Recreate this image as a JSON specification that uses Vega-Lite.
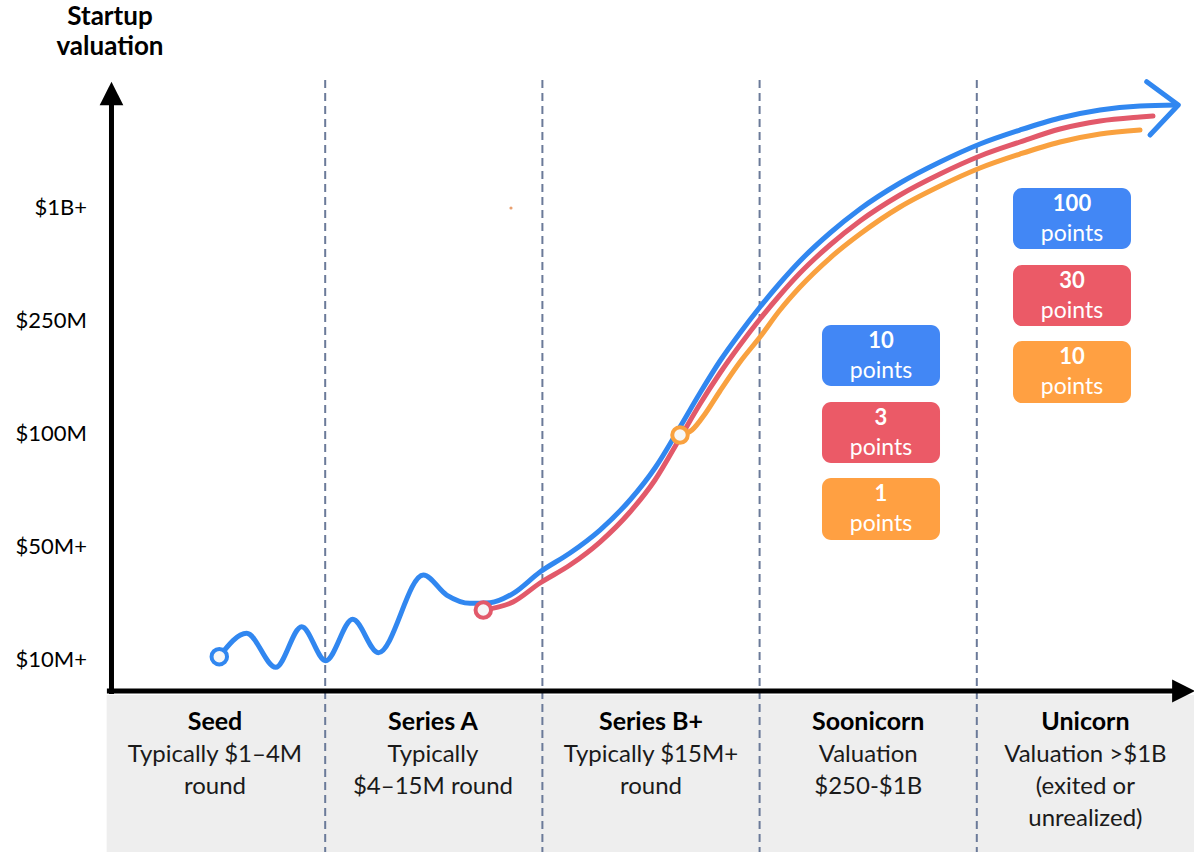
{
  "$schema": "https://vega.github.io/schema/vega-lite/v6.json",
  "width": 1194,
  "height": 852,
  "autosize": "none",
  "padding": 0,
  "background": "white",
  "config": {"view": {"stroke": null}, "font": "Lato"},
  "encoding": {
    "x": {"field": "x", "type": "quantitative", "scale": {"domain": [-0.4972, 5], "nice": false, "zero": false}, "axis": null},
    "y": {"field": "y", "type": "quantitative", "scale": {"domain": [-0.6991, 6.8407], "nice": false, "zero": false}, "axis": null}
  },
  "layer": [
    {
      "data": {"values": [{"x": -0.0061, "x2": 5, "y": 0.6903, "y2": -0.6991}]},
      "mark": {"type": "rect", "color": "#eeeeee"},
      "encoding": {"x2": {"field": "x2"}, "y2": {"field": "y2"}}
    },
    {
      "data": {"values": [{"x": 1, "y": 6.133, "y2": -0.6991}, {"x": 2, "y": 6.133, "y2": -0.6991}, {"x": 3, "y": 6.133, "y2": -0.6991}, {"x": 4, "y": 6.133, "y2": -0.6991}]},
      "mark": {"type": "rule", "color": "#6b7a99", "strokeWidth": 2, "strokeDash": [8, 5]},
      "encoding": {"y2": {"field": "y2"}}
    },
    {
      "data": {"values": [{"x": -0.005, "x2": 4.96, "y": 0.7257}]},
      "mark": {"type": "rule", "color": "black", "strokeWidth": 5},
      "encoding": {"x2": {"field": "x2"}}
    },
    {
      "data": {"values": [{"x": 0.0161, "y": 0.70, "y2": 5.95}]},
      "mark": {"type": "rule", "color": "black", "strokeWidth": 5},
      "encoding": {"y2": {"field": "y2"}}
    },
    {
      "data": {"values": [{"x": 0.0161, "y": 6.013, "dir": "up"}]},
      "mark": {"type": "point", "shape": "M-1,1L0,-1L1,1Z", "size": 560, "filled": true, "color": "black", "opacity": 1}
    },
    {
      "data": {"values": [{"x": 4.9517, "y": 0.7257, "dir": "right"}]},
      "mark": {"type": "point", "shape": "M-1,-1L1,0L-1,1Z", "size": 520, "filled": true, "color": "black", "opacity": 1}
    },
    {
      "data": {"values": [{"x": 0.0092, "y": 6.690, "t": "Startup"}, {"x": 0.0092, "y": 6.425, "t": "valuation"}]},
      "mark": {"type": "text", "fontSize": 26, "fontWeight": "bold", "align": "center", "baseline": "middle", "color": "black"},
      "encoding": {"text": {"field": "t"}}
    },
    {
      "data": {"values": [
        {"x": -0.0967, "y": 1, "t": "$10M+"},
        {"x": -0.0967, "y": 2, "t": "$50M+"},
        {"x": -0.0967, "y": 3, "t": "$100M"},
        {"x": -0.0967, "y": 4, "t": "$250M"},
        {"x": -0.0967, "y": 5, "t": "$1B+"}
      ]},
      "mark": {"type": "text", "fontSize": 22, "align": "right", "baseline": "middle", "color": "black"},
      "encoding": {"text": {"field": "t"}}
    },
    {
      "data": {"values": [
        {"x": 0.4926, "y": 0.4513, "t": "Seed"},
        {"x": 1.496, "y": 0.4513, "t": "Series A"},
        {"x": 2.5, "y": 0.4513, "t": "Series B+"},
        {"x": 3.5, "y": 0.4513, "t": "Soonicorn"},
        {"x": 4.5, "y": 0.4513, "t": "Unicorn"}
      ]},
      "mark": {"type": "text", "fontSize": 25, "fontWeight": "bold", "align": "center", "baseline": "middle", "color": "black"},
      "encoding": {"text": {"field": "t"}}
    },
    {
      "data": {"values": [
        {"x": 0.4926, "y": 0.1593, "t": "Typically $1–4M"},
        {"x": 0.4926, "y": -0.1239, "t": "round"},
        {"x": 1.496, "y": 0.1593, "t": "Typically"},
        {"x": 1.496, "y": -0.1239, "t": "$4–15M round"},
        {"x": 2.5, "y": 0.1593, "t": "Typically $15M+"},
        {"x": 2.5, "y": -0.1239, "t": "round"},
        {"x": 3.5, "y": 0.1593, "t": "Valuation"},
        {"x": 3.5, "y": -0.1239, "t": "$250-$1B"},
        {"x": 4.5, "y": 0.1593, "t": "Valuation >$1B"},
        {"x": 4.5, "y": -0.1239, "t": "(exited or"},
        {"x": 4.5, "y": -0.4071, "t": "unrealized)"}
      ]},
      "mark": {"type": "text", "fontSize": 24, "align": "center", "baseline": "middle", "color": "#1a1a1a"},
      "encoding": {"text": {"field": "t"}}
    },
    {
      "data": {"values": [{"x": 1.8554, "y": 5.0}]},
      "mark": {"type": "point", "filled": true, "size": 10, "color": "#e9a070", "opacity": 1}
    },
    {
      "data": {"values": [
        {"x": 2.6335, "y": 2.9912}, {"x": 2.6888, "y": 3.0354}, {"x": 2.7486, "y": 3.1770},
        {"x": 2.8177, "y": 3.3805}, {"x": 2.9098, "y": 3.6372}, {"x": 3.0018, "y": 3.8584},
        {"x": 3.0939, "y": 4.0973}, {"x": 3.1860, "y": 4.3009}, {"x": 3.3241, "y": 4.5575},
        {"x": 3.4622, "y": 4.7699}, {"x": 3.6464, "y": 5.0088}, {"x": 3.8306, "y": 5.1947},
        {"x": 4.0147, "y": 5.3540}, {"x": 4.1989, "y": 5.4779}, {"x": 4.3831, "y": 5.5841},
        {"x": 4.5672, "y": 5.6549}, {"x": 4.7514, "y": 5.6903}
      ]},
      "mark": {"type": "line", "interpolate": "monotone", "color": "#f9a13f", "strokeWidth": 5, "strokeCap": "round"}
    },
    {
      "data": {"values": [
        {"x": 1.7279, "y": 1.4425}, {"x": 1.8646, "y": 1.5133}, {"x": 1.9890, "y": 1.6814},
        {"x": 2.1271, "y": 1.8407}, {"x": 2.2652, "y": 2.0442}, {"x": 2.4033, "y": 2.3097},
        {"x": 2.5184, "y": 2.5929}, {"x": 2.6335, "y": 2.9646}, {"x": 2.7256, "y": 3.2655},
        {"x": 2.8177, "y": 3.5398}, {"x": 2.9098, "y": 3.7876}, {"x": 3.0018, "y": 4.0177},
        {"x": 3.0939, "y": 4.2301}, {"x": 3.1860, "y": 4.4248}, {"x": 3.3241, "y": 4.6726},
        {"x": 3.4622, "y": 4.8850}, {"x": 3.6464, "y": 5.1150}, {"x": 3.8306, "y": 5.3009},
        {"x": 4.0147, "y": 5.4602}, {"x": 4.1989, "y": 5.5841}, {"x": 4.3831, "y": 5.6991},
        {"x": 4.5672, "y": 5.7699}, {"x": 4.7514, "y": 5.8053}, {"x": 4.8112, "y": 5.8142}
      ]},
      "mark": {"type": "line", "interpolate": "monotone", "color": "#e2596a", "strokeWidth": 5, "strokeCap": "round"}
    },
    {
      "data": {"values": [
        {"x": 0.5124, "y": 1.029}, {"x": 0.6386, "y": 1.236}, {"x": 0.7721, "y": 0.935},
        {"x": 0.8918, "y": 1.295}, {"x": 1.0023, "y": 0.994}, {"x": 1.1266, "y": 1.360},
        {"x": 1.2445, "y": 1.065}, {"x": 1.4517, "y": 1.752}, {"x": 1.5594, "y": 1.575},
        {"x": 1.6667, "y": 1.502}, {"x": 1.7587, "y": 1.507}, {"x": 1.8660, "y": 1.590},
        {"x": 1.9890, "y": 1.7788}, {"x": 2.1271, "y": 1.9469}, {"x": 2.2652, "y": 2.1504},
        {"x": 2.4033, "y": 2.4159}, {"x": 2.5184, "y": 2.6991}, {"x": 2.6335, "y": 3.0619},
        {"x": 2.7256, "y": 3.3628}, {"x": 2.8177, "y": 3.6460}, {"x": 2.9098, "y": 3.8938},
        {"x": 3.0018, "y": 4.1239}, {"x": 3.0939, "y": 4.3363}, {"x": 3.1860, "y": 4.5310},
        {"x": 3.3241, "y": 4.7788}, {"x": 3.4622, "y": 4.9912}, {"x": 3.6464, "y": 5.2212},
        {"x": 3.8306, "y": 5.4071}, {"x": 4.0147, "y": 5.5664}, {"x": 4.1989, "y": 5.6903},
        {"x": 4.3831, "y": 5.7965}, {"x": 4.5672, "y": 5.8673}, {"x": 4.7514, "y": 5.9027},
        {"x": 4.9217, "y": 5.9115}
      ]},
      "mark": {"type": "line", "interpolate": "monotone", "color": "#3187f0", "strokeWidth": 5, "strokeCap": "round"}
    },
    {
      "data": {"values": [
        {"i": 0, "x": 4.7823, "y": 6.118}, {"i": 1, "x": 4.9277, "y": 5.912}, {"i": 2, "x": 4.7974, "y": 5.646}
      ]},
      "mark": {"type": "line", "interpolate": "linear", "color": "#3187f0", "strokeWidth": 5, "strokeCap": "round", "strokeJoin": "round"},
      "encoding": {"order": {"field": "i", "type": "quantitative"}}
    },
    {
      "data": {"values": [
        {"x": 0.5124, "y": 1.029, "tier": "blue"},
        {"x": 1.7279, "y": 1.442, "tier": "red"},
        {"x": 2.6335, "y": 2.991, "tier": "orange"}
      ]},
      "mark": {"type": "point", "shape": "circle", "size": 240, "fill": "#f7f7f7", "filled": false, "strokeWidth": 4, "opacity": 1, "fillOpacity": 1},
      "encoding": {
        "stroke": {"field": "tier", "type": "nominal", "scale": {"domain": ["blue", "red", "orange"], "range": ["#3187f0", "#e2596a", "#f9a13f"]}, "legend": null}
      }
    },
    {
      "data": {"values": [
        {"x": 3.2873, "x2": 3.8306, "y": 3.965, "y2": 3.425, "tier": "blue"},
        {"x": 3.2873, "x2": 3.8306, "y": 3.283, "y2": 2.743, "tier": "red"},
        {"x": 3.2873, "x2": 3.8306, "y": 2.611, "y2": 2.062, "tier": "orange"},
        {"x": 4.1667, "x2": 4.7099, "y": 5.177, "y2": 4.637, "tier": "blue"},
        {"x": 4.1667, "x2": 4.7099, "y": 4.496, "y2": 3.956, "tier": "red"},
        {"x": 4.1667, "x2": 4.7099, "y": 3.823, "y2": 3.274, "tier": "orange"}
      ]},
      "mark": {"type": "rect", "cornerRadius": 9, "opacity": 1},
      "encoding": {
        "x2": {"field": "x2"},
        "y2": {"field": "y2"},
        "color": {"field": "tier", "type": "nominal", "scale": {"domain": ["blue", "red", "orange"], "range": ["#4287f5", "#eb5a67", "#ffa042"]}, "legend": null}
      }
    },
    {
      "data": {"values": [
        {"x": 3.5589, "y": 3.823, "t": "10"},
        {"x": 3.5589, "y": 3.142, "t": "3"},
        {"x": 3.5589, "y": 2.469, "t": "1"},
        {"x": 4.4383, "y": 5.035, "t": "100"},
        {"x": 4.4383, "y": 4.354, "t": "30"},
        {"x": 4.4383, "y": 3.681, "t": "10"}
      ]},
      "mark": {"type": "text", "fontSize": 22, "fontWeight": "bold", "align": "center", "baseline": "middle", "color": "white"},
      "encoding": {"text": {"field": "t"}}
    },
    {
      "data": {"values": [
        {"x": 3.5589, "y": 3.558, "t": "points"},
        {"x": 3.5589, "y": 2.876, "t": "points"},
        {"x": 3.5589, "y": 2.204, "t": "points"},
        {"x": 4.4383, "y": 4.770, "t": "points"},
        {"x": 4.4383, "y": 4.088, "t": "points"},
        {"x": 4.4383, "y": 3.416, "t": "points"}
      ]},
      "mark": {"type": "text", "fontSize": 23, "align": "center", "baseline": "middle", "color": "white"},
      "encoding": {"text": {"field": "t"}}
    }
  ]
}
